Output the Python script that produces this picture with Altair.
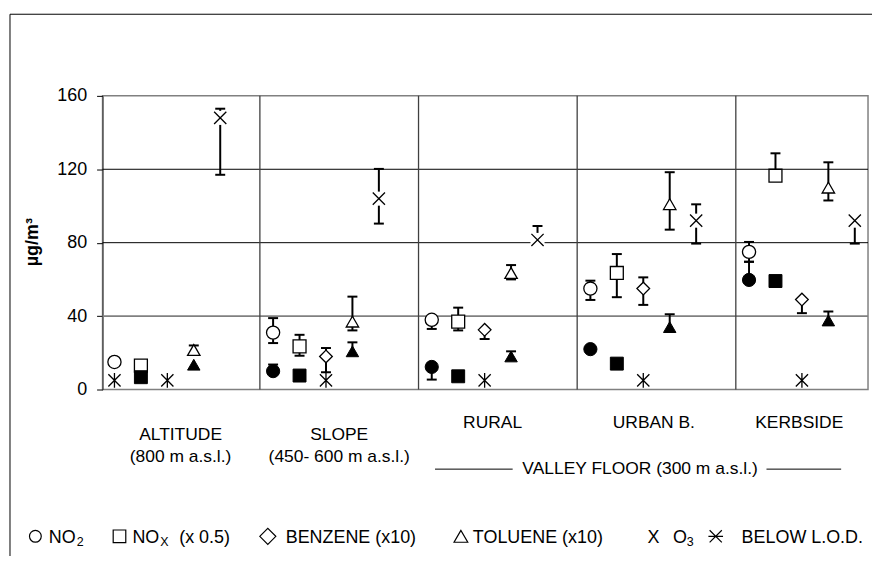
import altair as alt
import pandas as pd

FONT = "Liberation Sans"

sites = ["ALTITUDE", "SLOPE", "RURAL", "URBAN B.", "KERBSIDE"]
site_line2 = ["(800 m a.s.l.)", "(450- 600 m a.s.l.)", "", "", ""]
site_label_x = [2.5, 8.5, 14.3, 20.4, 25.9]
pollutants = ["NO2", "NOx", "BENZENE", "TOLUENE", "O3"]

# hollow markers, one value per site (None = below L.O.D.)
open_no2 = [15, 31, 38, 55, 75]
open_nox = [13, 23.5, 37, 63.5, 116.5]
open_benzene = [None, 18, 32.5, 55, 49]
open_toluene = [21.5, 37, 63.5, 101, 110]
open_o3 = [148, 104, 81.5, 92, 92]

open_no2_lo = [None, 25.3, 33, 48.8, 69.6]
open_no2_hi = [None, 38.9, None, 59.3, 80.4]
open_nox_lo = [None, 18.4, 32.2, 50.3, None]
open_nox_hi = [None, 29.8, 44.6, 73.8, 128.7]
open_benzene_lo = [None, 9.4, 27.5, 46.1, 41.6]
open_benzene_hi = [None, 22.6, None, 61.1, None]
open_toluene_lo = [None, 32.2, 60, 87.1, 103]
open_toluene_hi = [24, 50.6, 67.8, 118.4, 123.8]
open_o3_lo = [117, 90.4, None, 79.5, 79.5]
open_o3_hi = [153, 120.2, 89.1, 100.9, None]

# filled markers
filled_no2 = [None, 10, 12.3, 22, 59.7]
filled_nox = [6.7, 7.6, 7.2, 14.1, 59.1]
filled_benzene = [None, None, None, None, None]
filled_toluene = [13.5, 20.8, 18, 34, 37.6]

filled_no2_lo = [None, None, 5.4, None, None]
filled_no2_hi = [None, 13.6, None, None, 69.6]
filled_toluene_hi = [None, 25.7, 20.8, 41, 42.5]

lod_value = 5

grid_values = [40, 80, 120]
divider_slots = [5.5, 11.5, 17.5, 23.5]

# ---------- build tables ----------
open_series = {"NO2": (open_no2, open_no2_lo, open_no2_hi),
               "NOx": (open_nox, open_nox_lo, open_nox_hi),
               "BENZENE": (open_benzene, open_benzene_lo, open_benzene_hi),
               "TOLUENE": (open_toluene, open_toluene_lo, open_toluene_hi),
               "O3": (open_o3, open_o3_lo, open_o3_hi)}
none5 = [None] * 5
filled_series = {"NO2": (filled_no2, filled_no2_lo, filled_no2_hi),
                 "NOx": (filled_nox, none5, none5),
                 "BENZENE": (filled_benzene, none5, none5),
                 "TOLUENE": (filled_toluene, none5, filled_toluene_hi)}

def slot_of(si, pi):
    return si * 6 + pi

open_rows, filled_rows, lod_rows, seg_rows, cap_rows = [], [], [], [], []
for group, rows in ((open_series, open_rows), (filled_series, filled_rows)):
    for pol, (vals, los, his) in group.items():
        pi = pollutants.index(pol)
        for si in range(len(sites)):
            s = slot_of(si, pi)
            v = vals[si]
            if v is None:
                lod_rows.append({"slot": s, "value": lod_value})
                continue
            rows.append({"slot": s, "value": v, "pollutant": pol})
            if los[si] is not None:
                seg_rows.append({"slot": s, "y1": los[si], "y2": v})
                cap_rows.append({"slot": s, "y": los[si]})
            if his[si] is not None:
                seg_rows.append({"slot": s, "y1": v, "y2": his[si]})
                cap_rows.append({"slot": s, "y": his[si]})

open_df = pd.DataFrame(open_rows)
filled_df = pd.DataFrame(filled_rows)
lod_df = pd.DataFrame(lod_rows).drop_duplicates()
seg_df = pd.DataFrame(seg_rows)
cap_df = pd.DataFrame(cap_rows)
grid_df = pd.DataFrame({"v": grid_values})
div_df = pd.DataFrame({"d": divider_slots})
label_df = pd.DataFrame({"site": sites, "line2": site_line2, "cx": site_label_x})
one = pd.DataFrame({"a": [0]})

# ---------- scales ----------
W, H = 769, 295
xs = alt.Scale(domain=[-0.45, 28.5], nice=False, zero=False)
ys = alt.Scale(domain=[0, 160], nice=False)
yaxis = alt.Axis(values=[0, 40, 80, 120, 160], grid=False, title=None, tickSize=6,
                 labelPadding=10, labelFontSize=18, labelFont=FONT, labelColor="black",
                 tickColor="black", domainColor="#333333", tickWidth=1, domainWidth=1)

X_PATH = "M-1,-1L1,1M-1,1L1,-1"
STAR_PATH = "M-1,-1L1,1M-1,1L1,-1M0,-1.2L0,1.2"
STAR_H_PATH = "M-1,-1L1,1M-1,1L1,-1M-1.2,0L1.2,0"
shape_scale = alt.Scale(domain=pollutants, range=["circle", "square", "diamond", "triangle-up", X_PATH])
size_scale = alt.Scale(domain=pollutants, range=[175, 150, 220, 210, 230])

xq = lambda f: alt.X(f, scale=xs, axis=None)
yq = lambda f: alt.Y(f, scale=ys, axis=yaxis)

grid = alt.Chart(grid_df).mark_rule().encode(
    y=yq("v:Q"),
    color=alt.condition("datum.v == 40", alt.value("#808080"), alt.value("black")),
    strokeWidth=alt.condition("datum.v == 40", alt.value(1.6), alt.value(1)),
)
dividers = alt.Chart(div_df).mark_rule(color="#404040", strokeWidth=1.3).encode(x=xq("d:Q"))

segs = alt.Chart(seg_df).mark_rule(color="black", strokeWidth=2).encode(
    x=xq("slot:Q"), y=yq("y1:Q"), y2="y2:Q")
caps = alt.Chart(cap_df).mark_tick(orient="horizontal", size=10, thickness=2, color="black", opacity=1).encode(
    x=xq("slot:Q"), y=yq("y:Q"))

# white box behind the O3 crosses (masks bars and grid lines like the original)
o3_bg = alt.Chart(open_df).transform_filter("datum.pollutant == 'O3'").mark_point(
    shape="square", size=200, filled=True, fill="white", strokeWidth=0, opacity=1).encode(
    x=xq("slot:Q"), y=yq("value:Q"))

open_pts = alt.Chart(open_df).mark_point(filled=True, fill="white", stroke="black", strokeWidth=1.3, opacity=1).encode(
    x=xq("slot:Q"), y=yq("value:Q"),
    shape=alt.Shape("pollutant:N", scale=shape_scale, legend=None),
    size=alt.Size("pollutant:N", scale=size_scale, legend=None),
)
filled_pts = alt.Chart(filled_df).mark_point(filled=True, fill="black", stroke="black", strokeWidth=1, opacity=1).encode(
    x=xq("slot:Q"), y=yq("value:Q"),
    shape=alt.Shape("pollutant:N", scale=shape_scale, legend=None),
    size=alt.Size("pollutant:N", scale=size_scale, legend=None),
)
lod_pts = alt.Chart(lod_df).mark_point(shape=STAR_PATH, size=150, stroke="black", strokeWidth=1.3, filled=False, opacity=1).encode(
    x=xq("slot:Q"), y=yq("value:Q"))

# category labels
two_line = label_df[label_df["line2"] != ""]
one_line = label_df[label_df["line2"] == ""]
lab_a = alt.Chart(two_line).mark_text(font=FONT, fontSize=17.5, color="black", baseline="middle").encode(
    x=xq("cx:Q"), y=alt.value(341), text="site:N")
lab_b = alt.Chart(two_line).mark_text(font=FONT, fontSize=17.5, color="black", baseline="middle").encode(
    x=xq("cx:Q"), y=alt.value(363), text="line2:N")
lab_c = alt.Chart(one_line).mark_text(font=FONT, fontSize=17.5, color="black", baseline="middle").encode(
    x=xq("cx:Q"), y=alt.value(329), text="site:N")

valley_l = alt.Chart(one).mark_rule(color="black", strokeWidth=1).encode(
    x=alt.value(334), x2=alt.value(412), y=alt.value(375))
valley_r = alt.Chart(one).mark_rule(color="black", strokeWidth=1).encode(
    x=alt.value(667), x2=alt.value(742), y=alt.value(375))
valley_t = alt.Chart(one).mark_text(font=FONT, fontSize=17.5, color="black", baseline="middle").encode(
    x=alt.value(540), y=alt.value(375), text=alt.value("VALLEY FLOOR (300 m a.s.l.)"))

ytitle = alt.Chart(one).mark_text(font=FONT, fontSize=18, fontWeight="bold", color="black",
                                  angle=270, baseline="middle").encode(
    x=alt.value(-70), y=alt.value(147), text=alt.value("µg/m³"))

border = alt.Chart(one).mark_rect(fill="transparent", stroke="black", strokeWidth=1).encode(
    x=alt.value(-93), x2=alt.value(820), y=alt.value(-82), y2=alt.value(520))

# legend (custom)
LY = 442.5
LB = 449
def sym(shape, x, size, sw=1.2):
    return alt.Chart(one).mark_point(shape=shape, size=size, filled=True, fill="white",
                                     stroke="black", strokeWidth=sw, opacity=1).encode(
        x=alt.value(x), y=alt.value(LY))
def txt(t, x, y=LB, size=18):
    return alt.Chart(one).mark_text(font=FONT, fontSize=size, color="black", align="left",
                                    baseline="alphabetic").encode(
        x=alt.value(x), y=alt.value(y), text=alt.value(t))

legend = [
    sym("circle", -67.5, 140), txt("NO", -54), txt("2", -26, 452, 12.5),
    sym("square", 17, 160), txt("NO", 30), txt("X", 58, 452, 12.5), txt("(x 0.5)", 77),
    sym("diamond", 166, 260), txt("BENZENE (x10)", 184),
    sym("triangle-up", 360, 190), txt("TOLUENE (x10)", 372),
    txt("X", 547.5), txt("O", 573), txt("3", 587, 452, 12.5),
    sym(STAR_H_PATH, 616, 150), txt("BELOW L.O.D.", 642),
]

chart = alt.layer(
    border, grid, dividers, segs, caps, o3_bg, open_pts, filled_pts, lod_pts,
    lab_a, lab_b, lab_c, valley_l, valley_r, valley_t, ytitle, *legend
).properties(
    width=W, height=H,
    autosize=alt.AutoSizeParams(type="none"),
    padding={"left": 95, "top": 87, "right": 4, "bottom": 166},
    background="white",
).configure_view(stroke="#808080", strokeWidth=1.5)

chart.save("out.html", embed_options={"renderer": "svg", "actions": False})
